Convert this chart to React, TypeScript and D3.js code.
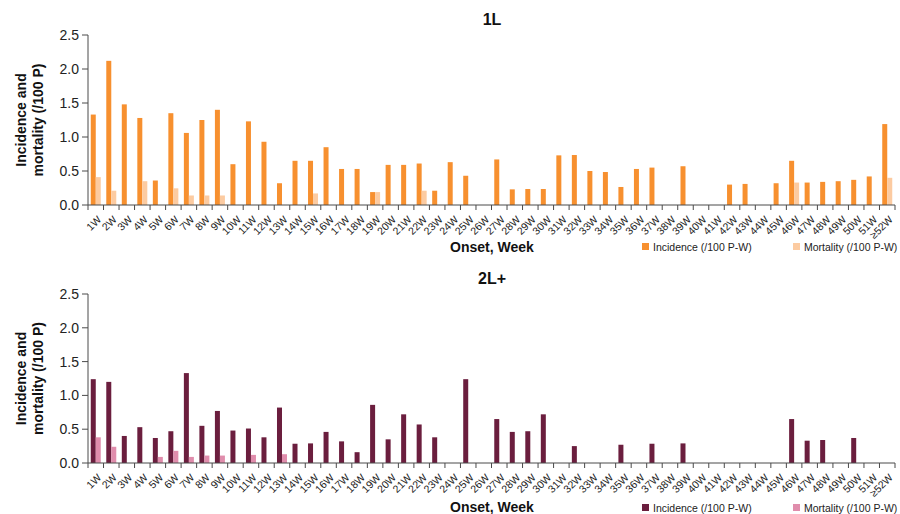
import React from "react";
import * as d3 from "d3";

const weeks: string[] = [
  "1W","2W","3W","4W","5W","6W","7W","8W","9W","10W","11W","12W","13W","14W","15W","16W","17W","18W","19W","20W",
  "21W","22W","23W","24W","25W","26W","27W","28W","29W","30W","31W","32W","33W","34W","35W","36W","37W","38W","39W","40W",
  "41W","42W","43W","44W","45W","46W","47W","48W","49W","50W","51W","≥52W"
];

const incidence1L: number[] = [
  1.33, 2.12, 1.48, 1.28, 0.36, 1.35, 1.06, 1.25, 1.40, 0.60, 1.23, 0.93, 0.32, 0.65, 0.65, 0.85, 0.53, 0.53, 0.19, 0.59,
  0.59, 0.61, 0.21, 0.63, 0.43, 0, 0.67, 0.23, 0.235, 0.235, 0.73, 0.735, 0.50, 0.485, 0.265, 0.53, 0.55, 0, 0.57, 0,
  0, 0.30, 0.31, 0, 0.32, 0.65, 0.33, 0.34, 0.35, 0.37, 0.42, 1.19
];
const mortality1L: number[] = [
  0.41, 0.21, 0, 0.35, 0, 0.245, 0.14, 0.14, 0.14, 0, 0, 0, 0, 0, 0.17, 0, 0, 0, 0.19, 0,
  0, 0.21, 0, 0, 0, 0, 0, 0, 0, 0, 0, 0, 0, 0, 0, 0, 0, 0, 0, 0,
  0, 0, 0, 0, 0, 0.33, 0, 0, 0, 0, 0, 0.40
];
const incidence2L: number[] = [
  1.24, 1.20, 0.40, 0.53, 0.37, 0.47, 1.33, 0.55, 0.77, 0.48, 0.51, 0.38, 0.82, 0.285, 0.29, 0.46, 0.32, 0.16, 0.86, 0.35,
  0.72, 0.57, 0.38, 0, 1.24, 0, 0.65, 0.46, 0.47, 0.72, 0, 0.25, 0, 0, 0.27, 0, 0.285, 0, 0.29, 0,
  0, 0, 0, 0, 0, 0.65, 0.33, 0.34, 0, 0.37, 0, 0
];
const mortality2L: number[] = [
  0.38, 0.24, 0, 0, 0.09, 0.18, 0.09, 0.11, 0.11, 0, 0.12, 0, 0.13, 0, 0, 0, 0, 0, 0, 0,
  0, 0, 0, 0, 0, 0, 0, 0, 0, 0, 0, 0, 0, 0, 0, 0, 0, 0, 0, 0,
  0, 0, 0, 0, 0, 0, 0, 0, 0, 0, 0, 0
];
const yTicks: number[] = [0, 0.5, 1.0, 1.5, 2.0, 2.5];
const legendLabels: string[] = ["Incidence (/100 P-W)", "Mortality (/100 P-W)"];

const FONT = "'Liberation Sans', Arial, Helvetica, sans-serif";

type PanelProps = {
  title: string;
  inc: number[];
  mort: number[];
  top: number;
  bottom: number;
  colors: [string, string];
  titleY: number;
  xTitleY: number;
  legendY: number;
};

const X0 = 88;
const X1 = 895;

function Panel({ title, inc, mort, top, bottom, colors, titleY, xTitleY, legendY }: PanelProps) {
  const x = d3.scaleBand<string>().domain(weeks).range([X0, X1]).paddingInner(0).paddingOuter(0);
  const y = d3.scaleLinear().domain([0, 2.5]).range([bottom, top]);
  const bw = 5;
  const axisColor = "#4a4a4a";
  const yLabelCy = (top + bottom) / 2;
  return (
    <g>
      <text x={492} y={titleY} textAnchor="middle" fontFamily={FONT} fontWeight="bold" fontSize={16} fill="#111">{title}</text>
      {weeks.map((w, i) => {
        const cx = (x(w) as number) + x.bandwidth() / 2;
        return (
          <g key={w}>
            {inc[i] > 0 && (
              <rect x={cx - bw} y={y(inc[i])} width={bw} height={bottom - y(inc[i])} fill={colors[0]} />
            )}
            {mort[i] > 0 && (
              <rect x={cx} y={y(mort[i])} width={bw} height={bottom - y(mort[i])} fill={colors[1]} />
            )}
          </g>
        );
      })}
      <line x1={X0} x2={X0} y1={top} y2={bottom} stroke={axisColor} strokeWidth={1} />
      {yTicks.map((t) => (
        <g key={t}>
          <line x1={X0 - 6} x2={X0} y1={y(t)} y2={y(t)} stroke={axisColor} strokeWidth={1} />
          <text x={X0 - 9} y={y(t)} dy="0.36em" textAnchor="end" fontFamily={FONT} fontSize={14} fill="#222">{d3.format(".1f")(t)}</text>
        </g>
      ))}
      <line x1={X0} x2={X1} y1={bottom} y2={bottom} stroke={axisColor} strokeWidth={1} />
      {weeks.map((w) => (
        <line key={"t" + w} x1={x(w) as number} x2={x(w) as number} y1={bottom} y2={bottom + 5} stroke={axisColor} strokeWidth={1} />
      ))}
      <line x1={X1} x2={X1} y1={bottom} y2={bottom + 5} stroke={axisColor} strokeWidth={1} />
      {weeks.map((w) => {
        const cx = (x(w) as number) + x.bandwidth() / 2;
        return (
          <text key={"l" + w} transform={`translate(${cx + 1},${bottom + 10}) rotate(-45)`} dy="0.7em" textAnchor="end" fontFamily={FONT} fontSize={10.5} fill="#222">{w}</text>
        );
      })}
      <text transform={`translate(26,${yLabelCy}) rotate(-90)`} textAnchor="middle" fontFamily={FONT} fontWeight="bold" fontSize={14} fill="#111">Incidence and</text>
      <text transform={`translate(43,${yLabelCy}) rotate(-90)`} textAnchor="middle" fontFamily={FONT} fontWeight="bold" fontSize={14} fill="#111">mortality (/100 P)</text>
      <text x={492} y={xTitleY} textAnchor="middle" fontFamily={FONT} fontWeight="bold" fontSize={14} fill="#111">Onset, Week</text>
      {legendLabels.map((lab, i) => {
        const lx = i === 0 ? 642 : 793;
        return (
          <g key={lab}>
            <rect x={lx} y={legendY - 4} width={7} height={7} fill={colors[i]} />
            <text x={lx + 11} y={legendY} dy="0.35em" fontFamily={FONT} fontSize={10.5} fill="#222">{lab}</text>
          </g>
        );
      })}
    </g>
  );
}

export default function App() {
  return (
    <svg width={900} height={514} style={{ position: "absolute", left: 0, top: 0, background: "#fff" }}>
      <rect width={900} height={514} fill="#fff" />
      <Panel title="1L" inc={incidence1L} mort={mortality1L} top={35} bottom={205} colors={["#F7902F", "#FCCBA1"]} titleY={25} xTitleY={252} legendY={247} />
      <Panel title="2L+" inc={incidence2L} mort={mortality2L} top={294} bottom={463} colors={["#6B1E3E", "#E08DAC"]} titleY={284} xTitleY={512} legendY={508} />
    </svg>
  );
}
